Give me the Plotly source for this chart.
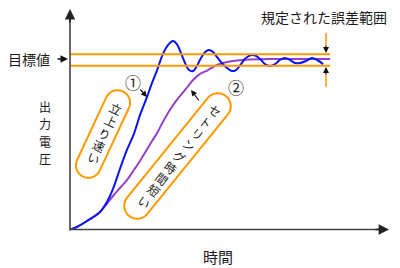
import math
import plotly.graph_objects as go

# ---------------- data ----------------
# curve ① : fast rise with overshoot / ringing (time, output voltage; target = 1.0)
t_fast = [0, 2.2, 5.35, 9.43, 11.6, 13.5, 15.7, 17.9, 20.1, 22.0, 24.2, 25.8, 27.4, 29.2,
          30.8, 32.4, 33.6, 34.9, 36.2, 37.4, 38.7, 39.9, 41.2, 42.5, 43.7, 45.0, 46.2,
          47.8, 49.4, 50.9, 52.2, 53.8, 55.3, 57.2, 58.5, 60.1, 61.3, 62.9, 64.5, 66.0,
          67.6, 69.2, 70.8, 72.3, 74.2, 76.1, 77.7, 79.6]
v_fast = [0, 0.018, 0.053, 0.106, 0.165, 0.241, 0.359, 0.471, 0.565, 0.676, 0.782, 0.865,
          0.941, 1.035, 1.088, 1.112, 1.094, 1.041, 0.982, 0.941, 0.935, 0.965, 1.012,
          1.047, 1.059, 1.047, 1.018, 0.982, 0.953, 0.935, 0.941, 0.976, 1.012, 1.029,
          1.024, 1.0, 0.976, 0.965, 0.976, 1.0, 1.012, 1.0, 0.982, 0.982, 0.994, 1.012,
          1.0, 0.976]
# curve ② : short settling time, no overshoot
t_settle = [0, 2.2, 5.35, 9.43, 11.3, 13.5, 15.7, 17.9, 20.1, 22.0, 23.9, 25.8, 27.4, 29.2,
            31.4, 33.6, 36.2, 38.7, 40.9, 43.4, 46.2, 49.4, 52.5, 56.6, 62.9, 72.3, 81.8]
v_settle = [0, 0.018, 0.053, 0.106, 0.147, 0.2, 0.247, 0.294, 0.353, 0.406, 0.465, 0.524,
            0.571, 0.635, 0.706, 0.765, 0.824, 0.882, 0.918, 0.941, 0.971, 0.988, 0.997,
            1.003, 1.006, 1.006, 1.006]
target = 1.0
tolerance = 0.0335
band_end = 81.8

label_y = "出力電圧"
label_x = "時間"
label_target = "目標値"
label_band = "規定された誤差範囲"
label_fast = "立上り速い"
label_settle = "セトリング時間短い"

# ---------------- geometry helpers ----------------
W, H = 400, 268
ML, MR, MT, MB = 70, 12, 10, 38
PW, PH = W - ML - MR, H - MT - MB
XMAX = 100.0
PX_X = PW / XMAX
PX_Y = 170.0
YMAX = PH / PX_Y

def X(px):
    return (px - ML) / PX_X

def Y(py):
    return (H - MB - py) / PX_Y

def XP(px):
    return (px - ML) / PW

def YP(py):
    return (H - MB - py) / PH

ORANGE = "#FF9900"
BLUE = "#0A14F0"
PURPLE = "#9640C8"
INK = "#1a1a1a"
FONT = "Noto Sans CJK JP"

fig = go.Figure()
fig.add_trace(go.Scatter(x=t_settle, y=v_settle, mode="lines",
                         line=dict(color=PURPLE, width=2, shape="spline"),
                         hoverinfo="skip", showlegend=False))
fig.add_trace(go.Scatter(x=t_fast, y=v_fast, mode="lines",
                         line=dict(color=BLUE, width=2, shape="spline"),
                         hoverinfo="skip", showlegend=False))

shapes = []
# tolerance band lines
for lv in (target + tolerance, target - tolerance):
    shapes.append(dict(type="line", xref="x", yref="y", x0=X(68), x1=band_end,
                       y0=lv, y1=lv, line=dict(color=ORANGE, width=2)))

# stadium (rounded) bubbles
def stadium(cx, cy, ang, total, r, n=24):
    a = math.radians(ang)
    d = (-math.sin(a), math.cos(a))
    nv = (math.cos(a), math.sin(a))
    h = total / 2 - r
    c1 = (cx - d[0] * h, cy - d[1] * h)
    c2 = (cx + d[0] * h, cy + d[1] * h)
    pts = []
    for i in range(n + 1):
        f = math.pi * i / n
        pts.append((c1[0] + r * (math.cos(f) * nv[0] - math.sin(f) * d[0]),
                    c1[1] + r * (math.cos(f) * nv[1] - math.sin(f) * d[1])))
    for i in range(n + 1):
        f = math.pi * i / n
        pts.append((c2[0] + r * (-math.cos(f) * nv[0] + math.sin(f) * d[0]),
                    c2[1] + r * (-math.cos(f) * nv[1] + math.sin(f) * d[1])))
    path = "M " + " L ".join(f"{X(p[0]):.4f},{Y(p[1]):.5f}" for p in pts) + " Z"
    return dict(type="path", xref="x", yref="y", path=path,
                line=dict(color=ORANGE, width=2))

shapes.append(stadium(103, 134, 25, 94, 12.5))
shapes.append(stadium(177.5, 156, 39, 154, 13))

# right-side band indicator stems
shapes.append(dict(type="line", xref="x", yref="y", x0=X(326), x1=X(326),
                   y0=Y(33), y1=Y(46), line=dict(color=ORANGE, width=1.5)))
shapes.append(dict(type="line", xref="x", yref="y", x0=X(326), x1=X(326),
                   y0=Y(87), y1=Y(74), line=dict(color=ORANGE, width=1.5)))
# axis lines
shapes.append(dict(type="line", xref="paper", yref="paper", x0=XP(70), x1=XP(70),
                   y0=YP(230.5), y1=YP(14), line=dict(color="#444", width=1.6)))
shapes.append(dict(type="line", xref="paper", yref="paper", x0=XP(69.5), x1=XP(384),
                   y0=YP(229.5), y1=YP(229.5), line=dict(color="#444", width=1.6)))

ann = []
def arrow(tipx, tipy, tailx, taily, color="#333", width=1.5, size=1.0, head=2):
    ann.append(dict(x=XP(tipx), y=YP(tipy), xref="paper", yref="paper", text="",
                    showarrow=True, ax=tailx - tipx, ay=taily - tipy,
                    arrowhead=head, arrowsize=size, arrowwidth=width,
                    arrowcolor=color, standoff=0, startstandoff=0))

# axes heads
arrow(70, 9, 70, 24, color="#222", width=1.6, size=1.3)
arrow(389, 229.5, 374, 229.5, color="#222", width=1.6, size=1.3)
# target marker
arrow(68, 59, 56, 59, color="#111", width=1.5, size=1.0)
# band indicator heads
arrow(326, 53, 326, 44, color="#111", width=1.2, size=1.0)
arrow(326, 67, 326, 76, color="#111", width=1.2, size=1.0)
# ① ② pointers
arrow(147, 97, 139, 88, color="#111", width=1.2, size=1.0)
arrow(191, 90, 200, 102, color="#111", width=1.2, size=1.0)

def txt(px, py, s, size=14, angle=0):
    ann.append(dict(x=XP(px), y=YP(py), xref="paper", yref="paper", text=s,
                    showarrow=False, xanchor="center", yanchor="middle",
                    textangle=angle,
                    font=dict(family=FONT, size=size, color=INK)))

txt(29, 59, label_target, 14)
txt(324, 17, label_band, 14)
txt(218, 256, label_x, 15)
for i, ch in enumerate(label_y):
    txt(45, 106 + i * 17.6, ch, 12)
txt(133, 82, "①", 16)
txt(236, 87, "②", 16)

def column(cx, cy, ang, step, s, size):
    a = math.radians(ang)
    d = (-math.sin(a), math.cos(a))
    n = len(s)
    for i, ch in enumerate(s):
        o = (i - (n - 1) / 2) * step
        txt(cx + d[0] * o, cy + d[1] * o, ch, size, ang)

column(105, 133, 25, 13.5, label_fast, 12)
column(180, 156, 38, 14.3, label_settle, 12)

fig.update_layout(
    width=W, height=H,
    margin=dict(l=ML, r=MR, t=MT, b=MB),
    paper_bgcolor="white", plot_bgcolor="white",
    xaxis=dict(range=[0, XMAX], visible=False, fixedrange=True),
    yaxis=dict(range=[0, YMAX], visible=False, fixedrange=True),
    shapes=shapes, annotations=ann, showlegend=False,
)
fig.write_html("out.html", config={"displayModeBar": False})
